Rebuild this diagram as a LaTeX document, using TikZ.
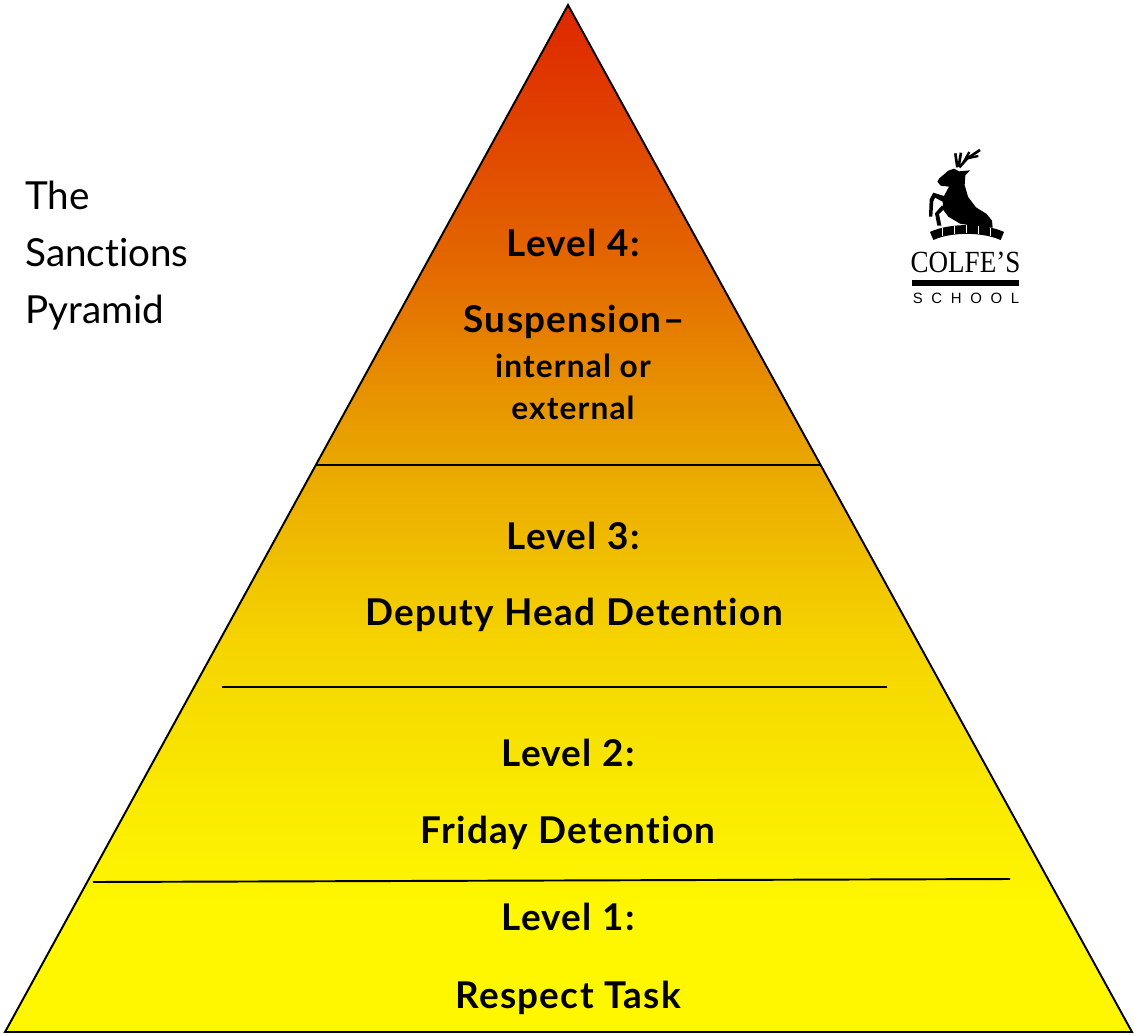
\documentclass[tikz,border=0pt]{standalone}
\usepackage{fontspec}
\setmainfont[Ligatures=NoCommon]{Lato}
\newfontfamily\levelfont[LetterSpace=3.6,Ligatures=NoCommon]{Lato}
\newfontfamily\logofont{Liberation Serif}
\newfontfamily\logosans[LetterSpace=58]{Liberation Sans}
\definecolor{tipred}{RGB}{222,38,0}
\definecolor{upperred}{RGB}{224,62,0}
\definecolor{upperorange}{RGB}{227,100,0}
\definecolor{midorange}{RGB}{232,160,0}
\definecolor{midgold}{RGB}{245,212,0}
\definecolor{lowgold}{RGB}{250,235,0}
\definecolor{baseyellow}{RGB}{255,247,0}
\pgfdeclareverticalshading{pyramidfill}{100bp}{color(0bp)=(baseyellow);color(25bp)=(baseyellow);color(31bp)=(baseyellow);color(36bp)=(lowgold);color(44bp)=(midgold);color(54bp)=(midorange);color(63bp)=(upperorange);color(70bp)=(upperred);color(75bp)=(tipred);color(100bp)=(tipred)}
\tikzset{
  levelhead/.style={font=\levelfont\fontsize{21}{24}\selectfont\bfseries,anchor=base},
  levelsmall/.style={font=\levelfont\fontsize{18}{21}\selectfont\bfseries,anchor=base},
  sidetext/.style={font=\fontsize{22}{26}\selectfont,anchor=base west},
  divider/.style={line width=1.1pt}
}
\begin{document}
\begin{tikzpicture}[x=0.02cm,y=-0.02cm]
    \useasboundingbox (0,0) rectangle (1134,1035);

    % definir vertices da piramide
    \coordinate (Apex) at (568,5);
    \coordinate (BaseL) at (5,1032);
    \coordinate (BaseR) at (1132,1032);

    % piramide
    \draw[line width=1.1pt,shading=pyramidfill,line join=miter] (Apex) -- (BaseL) -- (BaseR) -- cycle;

    % divisorias
    \coordinate (D4L) at (315,465);
    \coordinate (D4R) at (821,465);
    \coordinate (D3L) at (222,687);
    \coordinate (D3R) at (887,687);
    \coordinate (D2L) at (93,882);
    \coordinate (D2R) at (1010,879);
    \draw[divider] (D4L) -- (D4R);
    \draw[divider] (D3L) -- (D3R);
    \draw[divider] (D2L) -- (D2R);

    % textos dos niveis
    \node[levelhead] (L4) at (573,256) {Level 4:};
    \node[levelhead] (L4a) at (574,332) {Suspension–};
    \node[levelsmall] (L4b) at (573,377) {internal or};
    \node[levelsmall] (L4c) at (573,419) {external};
    \node[levelhead] (L3) at (573,549) {Level 3:};
    \node[levelhead] (L3a) at (574,625) {Deputy Head Detention};
    \node[levelhead] (L2) at (568,766) {Level 2:};
    \node[levelhead] (L2a) at (568,843) {Friday Detention};
    \node[levelhead] (L1) at (568,930) {Level 1:};
    \node[levelhead] (L1a) at (568,1008) {Respect Task};

    % titulo
    \node[sidetext,inner sep=0pt] (T1) at (25,209) {The};
    \node[sidetext,inner sep=0pt] (T2) at (25,266) {Sanctions};
    \node[sidetext,inner sep=0pt] (T3) at (25,323) {Pyramid};

    % logotipo
    \begin{scope}[shift={(880,130)},x=0.00667cm,y=-0.00667cm]
        % veado
        \fill (172,155) -- (178,145) -- (205,122) -- (222,116) -- (238,124) -- (270,121)
            -- (256,136) -- (254,165) -- (264,200) -- (288,232) -- (320,252) -- (336,272)
            -- (338,293) -- (290,289) -- (240,281) -- (205,260) -- (190,240) -- (188,215)
            -- (165,203) -- (160,214) -- (157,260) -- (147,260) -- (149,208) -- (160,188)
            -- (192,198) -- (207,170) -- (182,167) -- cycle;
        \fill (194,236) -- (177,252) -- (184,287) -- (172,287) -- (165,250) -- (186,226) -- cycle;
        % hastes
        \draw[line width=1.5pt] (232,112) -- (226,70);
        \draw[line width=1.5pt] (236,110) -- (243,68);
        \draw[line width=1.5pt] (238,112) -- (262,85) -- (300,60);
        \draw[line width=1.3pt] (250,98) -- (268,66);
        \draw[line width=1.3pt] (262,85) -- (295,78);
        % ponte
        \draw[line width=5pt] (155,318) .. controls (210,292) and (310,292) .. (367,318);
        \foreach \gapx/\gapy in {186/305,222/299,258/297,294/299,330/305}
            \draw[white,line width=0.5pt] (\gapx,\gapy-12) -- (\gapx,\gapy+12);
        % barra
        \fill (97,451) rectangle (416,467);
    \end{scope}
    \node[font=\logofont\fontsize{17.5}{19}\selectfont,anchor=base,xscale=0.88,inner sep=0pt] (LogoName) at (965.5,272) {COLFE’S};
    \node[font=\logosans\fontsize{8.5}{10}\selectfont,anchor=base,inner sep=0pt] (LogoSchool) at (966,303) {SCHOOL};
\end{tikzpicture}
\end{document}
